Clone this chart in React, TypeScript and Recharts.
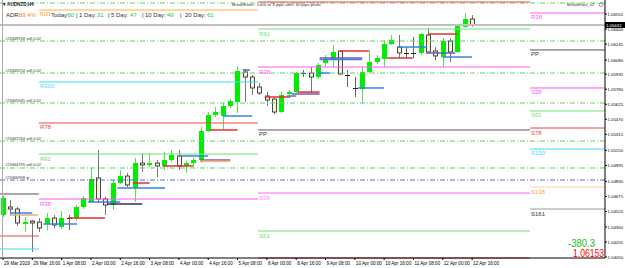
import { ComposedChart, Bar, XAxis, YAxis, ReferenceLine } from 'recharts';

const W = 625;
const H = 268;
const FONT = '"Liberation Sans", Arial, sans-serif';

// x domain in candle-index units (first candle = 29 Mar 2019 00:00, H4)
const XMIN = -0.41;
const XMAX = 82.13;
const YMIN = 1.0404;
const YMAX = 1.067;

// AUDNZD H4 candles
const opens = [
  1.04483, 1.04566, 1.04545, 1.04391, 1.04421, 1.04411, 1.04391, 1.04452, 1.0436, 1.04452,
  1.04452, 1.04566, 1.04617, 1.04865, 1.04648, 1.04586, 1.04813, 1.04885, 1.04762, 1.05019,
  1.04999, 1.05019, 1.04989, 1.0505, 1.05092, 1.04989, 1.05019, 1.0505, 1.05349, 1.05514,
  1.05504, 1.05607, 1.05648, 1.05958, 1.05906, 1.05803, 1.0571, 1.05679, 1.05545, 1.05731,
  1.05751, 1.05947, 1.05947, 1.05906, 1.0605, 1.06081, 1.06174, 1.05927, 1.05793, 1.05782,
  1.05958, 1.06061, 1.06092, 1.06246, 1.06215, 1.06154, 1.06154, 1.06154, 1.06339, 1.06174,
  1.06112, 1.06277, 1.06164, 1.06422, 1.06504,
];
const highs = [
  1.04679, 1.04638, 1.04566, 1.04463, 1.04432, 1.04452, 1.04504, 1.04483, 1.04525, 1.04483,
  1.04586, 1.04679, 1.04968, 1.05154, 1.04669, 1.04844, 1.04947, 1.04916, 1.05071, 1.05123,
  1.05123, 1.0505, 1.05133, 1.05154, 1.05154, 1.0504, 1.05071, 1.05391, 1.05545, 1.05597,
  1.05638, 1.05679, 1.0602, 1.05989, 1.05927, 1.05844, 1.05751, 1.0569, 1.05751, 1.05772,
  1.05958, 1.05978, 1.06009, 1.0605, 1.06133, 1.06236, 1.06185, 1.05978, 1.05906, 1.06009,
  1.06185, 1.06133, 1.06288, 1.06339, 1.06339, 1.06215, 1.06319, 1.0636, 1.06411, 1.06215,
  1.06308, 1.06308, 1.06442, 1.06566, 1.06545,
];
const lows = [
  1.04463, 1.04483, 1.0437, 1.04308, 1.04102, 1.04308, 1.04329, 1.04349, 1.04339, 1.04329,
  1.04421, 1.04545, 1.04607, 1.04607, 1.04483, 1.04535, 1.04803, 1.04772, 1.04617, 1.04927,
  1.04978, 1.04875, 1.04947, 1.0503, 1.04947, 1.04916, 1.04978, 1.05019, 1.05339, 1.05494,
  1.0537, 1.05587, 1.05535, 1.05648, 1.05721, 1.05721, 1.05607, 1.05525, 1.05535, 1.0571,
  1.05731, 1.05906, 1.05741, 1.05886, 1.06009, 1.06009, 1.05927, 1.05803, 1.057, 1.05638,
  1.05947, 1.0604, 1.06009, 1.06236, 1.06102, 1.06102, 1.06102, 1.06133, 1.06154, 1.06081,
  1.06009, 1.06061, 1.06154, 1.06411, 1.06422,
];
const closes = [
  1.04659, 1.04545, 1.04401, 1.04411, 1.04401, 1.04349, 1.04452, 1.0438, 1.04452, 1.04447,
  1.04566, 1.04659, 1.04855, 1.04648, 1.04586, 1.04813, 1.04885, 1.04793, 1.05019, 1.04999,
  1.05019, 1.04989, 1.0505, 1.05102, 1.04989, 1.05019, 1.0505, 1.05349, 1.05514, 1.05545,
  1.05607, 1.05659, 1.05968, 1.05906, 1.05793, 1.05741, 1.05669, 1.05545, 1.05721, 1.05751,
  1.05947, 1.05953, 1.05906, 1.0603, 1.06092, 1.06164, 1.05937, 1.05922, 1.05788, 1.05958,
  1.06061, 1.06102, 1.06246, 1.06288, 1.06154, 1.06148, 1.06148, 1.06349, 1.06164, 1.06123,
  1.06277, 1.06164, 1.06432, 1.06504, 1.06442,
];

const timeTickIdx = [0, 4, 8, 12, 16, 20, 24, 28, 32, 36, 40, 44, 48, 52, 56, 60, 64];
const timeLabels = [
  '29 Mar 2019', '29 Mar 16:00', '1 Apr 08:00', '2 Apr 00:00', '2 Apr 16:00', '3 Apr 08:00',
  '4 Apr 00:00', '4 Apr 16:00', '5 Apr 08:00', '8 Apr 00:00', '8 Apr 16:00', '9 Apr 08:00',
  '10 Apr 00:00', '10 Apr 16:00', '11 Apr 08:00', '12 Apr 00:00', '12 Apr 16:00',
];

const priceTicks = [
  1.06555, 1.064, 1.06245, 1.0608, 1.05935, 1.0578, 1.05625, 1.0547, 1.05315,
  1.0515, 1.04995, 1.0483, 1.04675, 1.0452, 1.0436, 1.04205, 1.0405,
];

const bidPrice = 1.06442;

// open orders (dash-dot lines)
const orderPrices = [1.06669, 1.06277, 1.05947, 1.05638, 1.05246, 1.04968, 1.04844];
const orderTexts = [
  '', '#23469918 sell 0.02', '#23469254 sell 0.02', '#23465945 sell 0.02',
  '#23467264 sell 0.02', '#23464795 sell 0.02', '#23466998 tp',
];
const orderColors = ['#6c6', '#6c6', '#6c6', '#6c6', '#6c6', '#6c6', '#66c'];

// pivot periods (candle index boundaries)
const periodFrom = [XMIN, 4.9, 34.8, 71.9];
const periodTo = [4.9, 34.8, 71.9, XMAX];
// [name, price, show label]
const levelsP1: [string, number, boolean][] = [['PP', 1.047, false], ['S78', 1.04267, false], ['S100', 1.04133, false]];
const levelsP2: [string, number, boolean][] = [
  ['R161', 1.06597, true], ['R100', 1.05855, true], ['R78', 1.05432, true], ['R61', 1.05112, true], ['R38', 1.04648, true],
];
const levelsP3: [string, number, boolean][] = [
  ['R78', 1.06679, false], ['R61', 1.06401, true], ['R38', 1.06009, true], ['PP', 1.0536, true],
  ['S38', 1.0471, true], ['S61', 1.04318, true], ['S78', 1.0404, false],
];
const levelsP4: [string, number, boolean][] = [
  ['R38', 1.06566, true], ['PP', 1.06185, true], ['S38', 1.05793, true], ['S61', 1.05556, true],
  ['S78', 1.0538, true], ['S100', 1.05164, true], ['S138', 1.04772, true], ['S161', 1.04545, true],
];
const periodLevels = [levelsP1, levelsP2, levelsP3, levelsP4];

const levelColor: Record<string, string> = {
  R161: '#ffb040', R100: '#3cdcff', R78: '#ee4444', R61: '#6fe36f', R38: '#ff55ff', PP: '#555',
  S38: '#ff55ff', S61: '#6fe36f', S78: '#ee4444', S100: '#3cdcff', S138: '#ffd29a', S161: '#999',
};
const labelColor: Record<string, string> = { ...levelColor, PP: '#333', S161: '#333', S138: '#ffaa33', R161: '#ffa020' };

// short trade level marks: [colour, price, from, to]
const tradeMarks: [string, number, number, number][] = [
  ['#3a80e8', 1.04504, 1.0, 4.0],
  ['#e8b070', 1.04483, 1.0, 4.8],
  ['#3a80e8', 1.04391, 5.5, 10.1],
  ['#e03030', 1.04452, 8.9, 13.9],
  ['#3a80e8', 1.04617, 11.6, 16.0],
  ['#333355', 1.04597, 14.2, 19.0],
  ['#3a80e8', 1.04762, 15.6, 22.1],
  ['#e03030', 1.04813, 17.7, 20.0],
  ['#e03030', 1.04989, 21.8, 25.9],
  ['#3a80e8', 1.05092, 24.1, 28.0],
  ['#7058b8', 1.0505, 26.9, 31.0],
  ['#e8a060', 1.0504, 26.9, 31.0],
  ['#e03030', 1.0536, 28.2, 32.0],
  ['#3a80e8', 1.05504, 30.0, 34.0],
  ['#7058b8', 1.05978, 32.7, 33.7],
  ['#e03030', 1.057, 35.7, 39.2],
  ['#3a80e8', 1.0571, 38.7, 40.0],
  ['#7058b8', 1.05731, 39.4, 43.2],
  ['#e03030', 1.05751, 40.2, 43.2],
  ['#3a80e8', 1.05947, 43.0, 44.6],
  ['#7058b8', 1.06102, 43.2, 49.0],
  ['#3a80e8', 1.06087, 43.2, 49.0],
  ['#e03030', 1.06174, 46.0, 49.9],
  ['#3a80e8', 1.05793, 48.4, 52.0],
  ['#e03030', 1.06102, 52.4, 55.9],
  ['#3a80e8', 1.06215, 53.8, 57.8],
  ['#e03030', 1.06349, 58.0, 62.0],
  ['#7058b8', 1.06154, 57.7, 61.7],
  ['#3a80e8', 1.06112, 60.0, 64.0],
];

const adrParts: [string, number, string][] = [
  ['ADR:', 6, '#333'], ['99.4%', 19, '#ff7f27'], ['Today:', 51, '#333'], ['60', 67.5, '#2c2'],
  ['|', 76, '#333'], ['1 Day:', 79, '#333'], ['31', 97, '#2c2'], ['|', 108, '#333'],
  ['5 Day:', 111, '#333'], ['47', 130, '#2c2'], ['|', 142, '#333'], ['10 Day:', 145, '#333'],
  ['49', 167, '#2c2'], ['|', 180, '#333'], ['20 Day:', 185, '#333'], ['61', 207, '#2c2'],
];

const candles = opens.map((o, i) => ({ i, o, h: highs[i], l: lows[i], c: closes[i] }));

function Candle(props: any) {
  const { x, y, width, height, payload } = props;
  if (x == null || !payload) return null;
  const { o, h, l, c } = payload;
  const top = Math.min(y, y + height);
  const span = Math.abs(height);
  const py = (p: number) => top + ((h - p) / (h - l)) * span;
  const cx = Math.round(x + width / 2) + 0.5;
  const yo = py(o);
  const yc = py(c);
  const bTop = Math.min(yo, yc);
  const bH = Math.max(Math.abs(yc - yo), 1);
  if (Math.abs(c - o) < 0.00008) {
    return (
      <g>
        <line x1={cx} x2={cx} y1={top} y2={top + span} stroke="#666" />
        <line x1={cx - 2.5} x2={cx + 2.5} y1={Math.round(yo) + 0.5} y2={Math.round(yo) + 0.5} stroke="#222" />
      </g>
    );
  }
  if (c > o) {
    return (
      <g>
        <line x1={cx} x2={cx} y1={top} y2={top + span} stroke="#55e055" />
        <rect x={cx - 2.5} y={bTop} width={5} height={bH} fill="#00ee00" />
      </g>
    );
  }
  return (
    <g>
      <line x1={cx} x2={cx} y1={top} y2={top + span} stroke="#777" />
      <rect x={cx - 2} y={bTop} width={4} height={bH} fill="#f7f3d8" stroke="#333" strokeWidth={0.9} />
    </g>
  );
}

const TimeTick = (props: any) => {
  const { x, y, payload } = props;
  const k = timeTickIdx.indexOf(payload.value);
  return (
    <text x={x + 1} y={y + 5} fontSize={4.6} fill="#000" fontFamily={FONT}>
      {timeLabels[k]}
    </text>
  );
};

const PriceTick = (props: any) => {
  const { x, y, payload } = props;
  return (
    <text x={x + 0.5} y={y + 1.6} fontSize={4.3} fill="#000" fontFamily={FONT}>
      {payload.value.toFixed(5)}
    </text>
  );
};

const PivotLabel = (props: any) => {
  const vb = props.viewBox;
  if (!vb) return null;
  return (
    <text x={vb.x + 1} y={vb.y + 6.5} fontSize={props.fs || 6} fill={props.clr} fontFamily={FONT}>
      {props.txt}
    </text>
  );
};

const OrderLabel = (props: any) => {
  const vb = props.viewBox;
  if (!vb || !props.txt) return null;
  return (
    <text x={vb.x + 5} y={vb.y - 1.5} fontSize={4} fill="#333" fontFamily={FONT}>
      {props.txt}
    </text>
  );
};

const BidLabel = (props: any) => {
  const vb = props.viewBox;
  if (!vb) return null;
  const bx = vb.x + vb.width;
  return (
    <g>
      <rect x={bx} y={vb.y - 3} width={20} height={6} fill="#000" />
      <text x={bx + 1} y={vb.y + 1.6} fontSize={4.3} fill="#fff" fontFamily={FONT}>
        {props.txt}
      </text>
    </g>
  );
};

export default function App() {
  return (
    <div style={{ position: 'absolute', left: 0, top: 0, width: W, height: H, background: '#fff', overflow: 'hidden' }}>
      <ComposedChart width={W} height={H} data={candles} margin={{ top: 0, right: 0, bottom: 0, left: 0 }}>
        <XAxis
          type="number"
          dataKey="i"
          domain={[XMIN, XMAX]}
          allowDataOverflow
          ticks={timeTickIdx}
          tick={<TimeTick />}
          tickSize={2}
          tickMargin={0}
          height={10}
          interval={0}
          axisLine={{ stroke: '#000' }}
          tickLine={{ stroke: '#000' }}
        />
        <YAxis
          orientation="right"
          type="number"
          domain={[YMIN, YMAX]}
          allowDataOverflow
          ticks={priceTicks}
          tick={<PriceTick />}
          tickSize={2}
          tickMargin={0}
          width={20}
          interval={0}
          axisLine={{ stroke: '#000' }}
          tickLine={{ stroke: '#000' }}
        />

        {orderPrices.map((p, k) => (
          <ReferenceLine
            key={'ord' + k}
            y={p}
            stroke={orderColors[k]}
            strokeDasharray="5 2 1 2"
            label={<OrderLabel txt={orderTexts[k]} />}
          />
        ))}

        <ReferenceLine y={bidPrice} stroke="#c0c0c0" strokeWidth={2} label={<BidLabel txt={bidPrice.toFixed(5)} />} />

        {periodLevels.map((levels, w) =>
          levels.map(([name, p, show]) => {
            const soft = w === 2 && name === 'S38';
            return (
              <ReferenceLine
                key={'lv' + w + name}
                segment={[{ x: periodFrom[w], y: p }, { x: periodTo[w], y: p }]}
                stroke={soft ? '#ffb0ff' : levelColor[name]}
                strokeWidth={soft ? 2 : 1}
                label={
                  show ? (
                    <PivotLabel txt={name} fs={name === 'R161' ? 4.5 : 6} clr={soft ? '#ff88ff' : labelColor[name]} />
                  ) : undefined
                }
              />
            );
          })
        )}

        {tradeMarks.map(([col, p, a, b], k) => (
          <ReferenceLine key={'tm' + k} segment={[{ x: a, y: p }, { x: b, y: p }]} stroke={col} strokeWidth={1.5} />
        ))}

        <Bar dataKey={(d: any) => [d.l, d.h]} barSize={5} shape={<Candle />} isAnimationActive={false} />
      </ComposedChart>

      <svg width={W} height={H} style={{ position: 'absolute', left: 0, top: 0, pointerEvents: 'none' }} fontFamily={FONT}>
        <line x1={2.5} x2={2.5} y1={0} y2={258} stroke="#aaa" />
        <text x={3} y={5.5} fontSize={4.6} fontWeight="bold" fill="#222">▾ AUDNZD,H4</text>
        {adrParts.map(([t, x, col], k) => (
          <text key={'adr' + k} x={x} y={16.5} fontSize={6} fill={col}>{t}</text>
        ))}
        <text x={232} y={6} fontSize={4.4} fill="#333">BreakEven : Lock in 3 pips after 30 pips profit</text>
        <text x={567} y={6} fontSize={4.2} fill="#333">BreakEven_v2</text>
        <circle cx={601} cy={4.5} r={2} fill="none" stroke="#555" strokeWidth={0.6} />
        <text x={568} y={247} fontSize={10} fill="#22bb22" textLength={27} lengthAdjust="spacingAndGlyphs">-380.3</text>
        <text x={573} y={257} fontSize={10} fill="#ff0000" textLength={31} lengthAdjust="spacingAndGlyphs">1.06153</text>
      </svg>
    </div>
  );
}
